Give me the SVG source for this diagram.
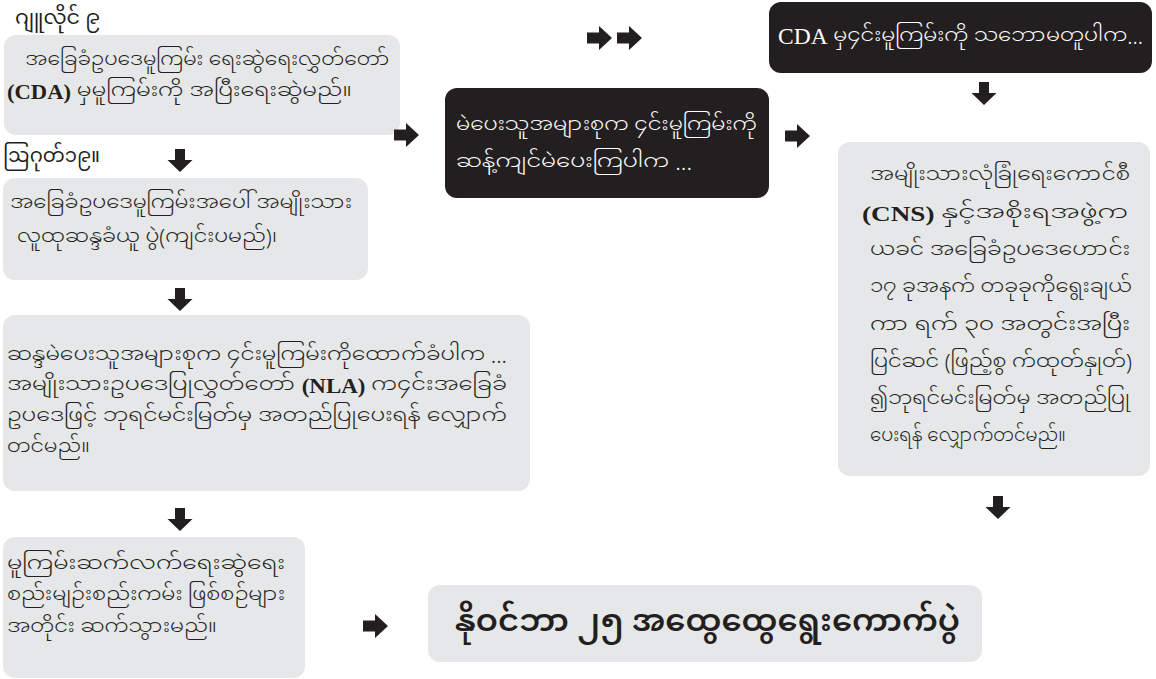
<svg xmlns="http://www.w3.org/2000/svg" width="1156" height="679" viewBox="0 0 1156 679">
<style>
.box{fill:#e6e7e8}
.dark{fill:#231f20}
.t{font-family:"Noto Sans Myanmar UI","Noto Sans Myanmar","Myanmar Text",Padauk,"Noto Sans",sans-serif;font-size:21px;font-weight:300;fill:#231f20}
.w{fill:#ffffff}
.lat{font-family:"Liberation Serif",serif;font-weight:bold}
.latn{font-family:"Liberation Serif",serif;font-weight:normal;font-size:23px}
.big{font-size:34px;font-weight:600}
.hd{font-size:22px;font-weight:400}
.arr{fill:#231f20}
</style>
<defs>
<path id="ar" d="M0,-5.5 H12 V-12 L25,0 L12,12 V5.5 H0 Z"/>
<path id="ad" d="M-5,0 V11 H-12.5 L0,23 L12.5,11 H5 V0 Z"/>
</defs>
<g id="title-july">
<text class="t hd" x="15" y="27" textLength="85" lengthAdjust="spacingAndGlyphs">ဂျူလိုင် ၉</text>
</g>
<g id="node-cda-draft">
<rect class="box" x="4" y="35" width="396" height="100" rx="12"/>
<text class="t" x="25" y="68" textLength="365" lengthAdjust="spacingAndGlyphs">အခြေခံဥပဒေမူကြမ်း ရေးဆွဲရေးလွှတ်တော်</text>
<text class="t" x="7" y="99" textLength="345" lengthAdjust="spacingAndGlyphs"><tspan class="lat">(CDA)</tspan> မှမူကြမ်းကို အပြီးရေးဆွဲမည်။</text>
</g>
<g id="title-august">
<text class="t hd" x="3" y="165" textLength="97" lengthAdjust="spacingAndGlyphs">ဩဂုတ်၁၉။</text>
</g>
<g id="node-referendum">
<rect class="box" x="3" y="178" width="365" height="102" rx="12"/>
<text class="t" x="10" y="211" textLength="342" lengthAdjust="spacingAndGlyphs">အခြေခံဥပဒေမူကြမ်းအပေါ် အမျိုးသား</text>
<text class="t" x="17" y="245" textLength="260" lengthAdjust="spacingAndGlyphs">လူထုဆန္ဒခံယူ ပွဲ(ကျင်းပမည်)၊</text>
</g>
<g id="node-approve">
<rect class="box" x="3" y="315" width="527" height="176" rx="12"/>
<text class="t" x="7" y="363" textLength="500" lengthAdjust="spacingAndGlyphs">ဆန္ဒမဲပေးသူအများစုက ၄င်းမူကြမ်းကိုထောက်ခံပါက ...</text>
<text class="t" x="7" y="393" textLength="500" lengthAdjust="spacingAndGlyphs">အမျိုးသားဥပဒေပြုလွှတ်တော် <tspan class="lat">(NLA)</tspan> က၄င်းအခြေခံ</text>
<text class="t" x="7" y="424" textLength="500" lengthAdjust="spacingAndGlyphs">ဥပဒေဖြင့် ဘုရင်မင်းမြတ်မှ အတည်ပြုပေးရန် လျှောက်</text>
<text class="t" x="7" y="455">တင်မည်။</text>
</g>
<g id="node-continue">
<rect class="box" x="3" y="537" width="302" height="141" rx="12"/>
<text class="t" x="7" y="572" textLength="278" lengthAdjust="spacingAndGlyphs">မူကြမ်းဆက်လက်ရေးဆွဲရေး</text>
<text class="t" x="7" y="603" textLength="278" lengthAdjust="spacingAndGlyphs">စည်းမျဉ်းစည်းကမ်း ဖြစ်စဉ်များ</text>
<text class="t" x="7" y="635" textLength="210" lengthAdjust="spacingAndGlyphs">အတိုင်း ဆက်သွားမည်။</text>
</g>
<g id="node-election">
<rect class="box" x="428" y="585" width="554" height="77" rx="12"/>
<text class="t big" x="455" y="636" textLength="505" lengthAdjust="spacingAndGlyphs">နိုဝင်ဘာ ၂၅ အထွေထွေရွေးကောက်ပွဲ</text>
</g>
<g id="node-reject">
<rect class="dark" x="445" y="88" width="324" height="110" rx="12"/>
<text class="t w" x="456" y="133" textLength="301" lengthAdjust="spacingAndGlyphs">မဲပေးသူအများစုက ၄င်းမူကြမ်းကို</text>
<text class="t w" x="456" y="170" textLength="236" lengthAdjust="spacingAndGlyphs">ဆန့်ကျင်မဲပေးကြပါက ...</text>
</g>
<g id="node-cda-disagree">
<rect class="dark" x="769" y="2" width="383" height="71" rx="12"/>
<text class="t w" x="778" y="44" textLength="365" lengthAdjust="spacingAndGlyphs"><tspan class="latn">CDA</tspan> မှ၄င်းမူကြမ်းကို သဘောမတူပါက...</text>
</g>
<g id="node-cns">
<rect class="box" x="838" y="142" width="312" height="334" rx="12"/>
<text class="t" x="870" y="183" textLength="260" lengthAdjust="spacingAndGlyphs">အမျိုးသားလုံခြုံရေးကောင်စီ</text>
<text class="t" x="862" y="221" textLength="266" lengthAdjust="spacingAndGlyphs"><tspan class="lat">(CNS)</tspan> နှင့်အစိုးရအဖွဲ့က</text>
<text class="t" x="870" y="258" textLength="260" lengthAdjust="spacingAndGlyphs">ယခင် အခြေခံဥပဒေဟောင်း</text>
<text class="t" x="870" y="295" textLength="262" lengthAdjust="spacingAndGlyphs">၁၇ ခုအနက် တခုခုကိုရွေးချယ်</text>
<text class="t" x="870" y="333" textLength="260" lengthAdjust="spacingAndGlyphs">ကာ ရက် ၃၀ အတွင်းအပြီး</text>
<text class="t" x="870" y="370" textLength="262" lengthAdjust="spacingAndGlyphs">ပြင်ဆင် (ဖြည့်စွ က်ထုတ်နှုတ်)</text>
<text class="t" x="870" y="407" textLength="260" lengthAdjust="spacingAndGlyphs">၍ဘုရင်မင်းမြတ်မှ အတည်ပြု</text>
<text class="t" x="870" y="444" textLength="196" lengthAdjust="spacingAndGlyphs">ပေးရန် လျှောက်တင်မည်။</text>
</g>
<g id="connectors" class="arr">
<use href="#ar" x="394" y="135"/>
<use href="#ar" x="587" y="38"/>
<use href="#ar" x="617" y="38"/>
<use href="#ar" x="785" y="136"/>
<use href="#ar" x="363" y="626"/>
<use href="#ad" x="180" y="149"/>
<use href="#ad" x="180" y="288"/>
<use href="#ad" x="180" y="508"/>
<use href="#ad" x="984" y="82"/>
<use href="#ad" x="998" y="496"/>
</g>
</svg>
